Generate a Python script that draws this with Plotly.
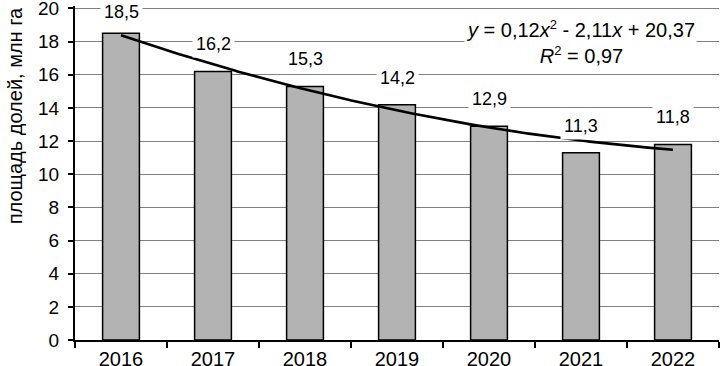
import plotly.graph_objects as go
import numpy as np

years = ["2016", "2017", "2018", "2019", "2020", "2021", "2022"]
values = [18.5, 16.2, 15.3, 14.2, 12.9, 11.3, 11.8]
labels = ["18,5", "16,2", "15,3", "14,2", "12,9", "11,3", "11,8"]
trend_coef = [0.12, -2.11, 20.37]  # quadratic trendline shown on the chart
y_ticks = [0, 2, 4, 6, 8, 10, 12, 14, 16, 18, 20]

pos = list(range(1, len(years) + 1))
xs = np.linspace(1, len(years), 200)
ys = trend_coef[0] * xs**2 + trend_coef[1] * xs + trend_coef[2]

font = "Liberation Sans, Arial, sans-serif"
Y_MAX = 20.15
PX_PER_UNIT = 16.6

fig = go.Figure()
fig.add_trace(go.Bar(
    x=pos, y=values, width=0.4,
    marker=dict(color="#b3b3b3", line=dict(color="black", width=1.5)),
    showlegend=False, hoverinfo="skip",
))
fig.add_trace(go.Scatter(
    x=xs, y=ys, mode="lines", line=dict(color="black", width=2.6),
    showlegend=False, hoverinfo="skip",
))

# top gridline (plotly drops gridlines at the very edge of the plot)
fig.add_shape(type="line", xref="paper", x0=0, x1=1, y0=max(y_ticks), y1=max(y_ticks),
              line=dict(color="#808080", width=1), layer="below")

for p, v, t in zip(pos, values, labels):
    # outside-end label, pushed down if it would leave the plot area
    shift = min(27, (max(y_ticks) - v) * PX_PER_UNIT - 4)
    fig.add_annotation(x=p, y=v, text=t, showarrow=False, yshift=shift,
                       bgcolor="white", borderpad=3,
                       font=dict(size=18, color="black", family=font))

sup2 = "<sup><span style='font-size:13px'>2</span></sup>"
fig.add_annotation(x=5.99, y=18.0,
                   text=f"<i>y</i> = 0,12<i>x</i>{sup2} - 2,11<i>x</i> + 20,37<br><i>R</i>{sup2} = 0,97",
                   showarrow=False, bgcolor="white", align="center",
                   font=dict(size=20, color="black", family=font))

fig.add_annotation(xref="paper", yref="paper", x=-0.093, xanchor="center", y=0.67, yanchor="middle",
                   text="площадь долей, млн га",
                   textangle=-90, showarrow=False, font=dict(size=20, color="black", family=font))

fig.update_layout(
    width=720, height=366,
    margin=dict(l=75, r=1, t=5.5, b=26, autoexpand=False),
    paper_bgcolor="white", plot_bgcolor="white",
    font=dict(family=font, size=18, color="black"),
    xaxis=dict(
        range=[0.5, len(years) + 0.5], tickvals=pos, ticktext=years,
        ticks="", showline=True, linecolor="black", linewidth=2,
        showgrid=False, zeroline=False, tickfont=dict(size=20),
        ticklabeloverflow="allow",
        minor=dict(ticks="outside", tick0=0.5, dtick=1, ticklen=6,
                   tickcolor="black", tickwidth=1.5, showgrid=False),
    ),
    yaxis=dict(
        range=[0, Y_MAX], tickvals=y_ticks, ticks="outside", ticklen=5,
        tickcolor="black", tickwidth=1.5,
        showline=True, linecolor="black", linewidth=2,
        showgrid=True, gridcolor="#808080", gridwidth=1, zeroline=False,
        tickfont=dict(size=19), automargin=False, ticklabeloverflow="allow",
        ticklabelstandoff=5,
    ),
)

fig.write_html("out.html", post_script="document.body.style.margin='0';",
               config={"displayModeBar": False})
